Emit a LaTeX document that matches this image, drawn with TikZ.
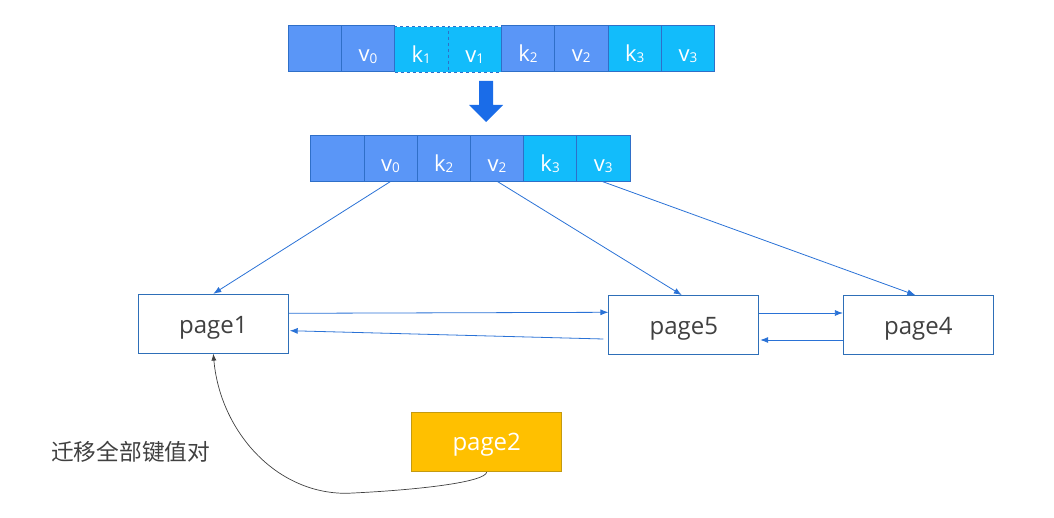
\documentclass[tikz,border=0pt]{standalone}
\usepackage{fontspec}
\setmainfont{Open Sans}
\newfontfamily\cjk{Noto Sans CJK SC}
\usetikzlibrary{arrows.meta,calc}
\definecolor{cellA}{HTML}{5A96F7}
\definecolor{cellB}{HTML}{12BCFB}
\definecolor{cellLine}{HTML}{2F6FC8}
\definecolor{linkBlue}{HTML}{2A72D6}
\definecolor{bigArrow}{HTML}{1A6CE8}
\definecolor{pageLine}{HTML}{2E6FB8}
\definecolor{gold}{HTML}{FFC000}
\definecolor{goldLine}{HTML}{C49A10}
\definecolor{txt}{HTML}{404040}
\newcommand{\sbs}[2]{#1\raisebox{-0.12ex}{\fontsize{13.5}{13.5}\selectfont #2}}
\tikzset{
  cellbox/.style={draw=cellLine, line width=0.7pt, minimum width=53.3pt, minimum height=45.5pt, inner sep=0pt, text=white, font=\fontsize{22}{22}\selectfont, text height=28pt, text depth=2pt},
  darkcell/.style={cellbox, fill=cellA},
  lightcell/.style={cellbox, fill=cellB},
  pagebox/.style={draw=pageLine, line width=0.8pt, fill=white, minimum width=150pt, minimum height=59pt, inner sep=0pt, text=txt, font=\fontsize{24}{24}\selectfont, text height=22pt, text depth=2.6pt},
  link/.style={draw=linkBlue, line width=0.8pt, -{Latex[length=8pt,width=6pt]}},
}
\begin{document}
\begin{tikzpicture}[x=1pt,y=-1pt]
\useasboundingbox (0,0) rectangle (1054,518);
% top array
\node[darkcell] (t0) at (314.7,48.6) {};
\node[darkcell] (t1) at (368.0,48.6) {\sbs{v}{0}};
\node[lightcell,dashed] (t2) at (421.3,49.5) {\sbs{k}{1}};
\node[lightcell,dashed] (t3) at (474.7,49.5) {\sbs{v}{1}};
\node[darkcell] (t4) at (528.0,48.4) {\sbs{k}{2}};
\node[darkcell] (t5) at (581.3,48.4) {\sbs{v}{2}};
\node[lightcell] (t6) at (634.7,48.4) {\sbs{k}{3}};
\node[lightcell] (t7) at (688.0,48.4) {\sbs{v}{3}};
% big down arrow
\fill[bigArrow] (479,81) -- (493,81) -- (493,105) -- (503,105) -- (486,122) -- (469,105) -- (479,105) -- cycle;
% bottom array
\node[darkcell] (b0) at (337.3,158.4) {};
\node[darkcell] (b1) at (390.5,158.4) {\sbs{v}{0}};
\node[darkcell] (b2) at (443.7,158.4) {\sbs{k}{2}};
\node[darkcell] (b3) at (496.9,158.4) {\sbs{v}{2}};
\node[lightcell] (b4) at (550.1,158.4) {\sbs{k}{3}};
\node[lightcell] (b5) at (603.3,158.4) {\sbs{v}{3}};
% pages
\node[pagebox] (p1) at (213.3,323.7) {page1};
\node[pagebox] (p5) at (683.8,325) {page5};
\node[pagebox] (p4) at (918.3,325) {page4};
\node[pagebox, fill=gold, draw=goldLine, text=white, text height=20pt, text depth=4pt] (p2) at (486.7,442.3) {page2};
\node[text=txt, font=\cjk\fontsize{22.7}{22.7}\selectfont, anchor=west, inner sep=0pt] (lbl) at (51,452) {迁移全部键值对};
% pointers
\draw[link] (b1.south) -- (p1.north);
\draw[link] ([xshift=0.5pt]b3.south) -- ([xshift=-2pt]p5.north);
\draw[link] ([xshift=-1pt]b5.south) -- ([xshift=-3pt]p4.north);
% sibling links
\draw[link] ([yshift=10.4pt]p1.east) -- ([yshift=12.7pt]p5.west);
\draw[link] ([xshift=-5pt,yshift=-14pt]p5.west) -- ([xshift=1pt,yshift=-7pt]p1.east);
\draw[link] ([yshift=12pt]p5.east) -- ([yshift=12pt]p4.west);
\draw[link] ([yshift=-15pt]p4.west) -- ([xshift=1pt,yshift=-15pt]p5.east);
% migration curve
\coordinate (mid) at (347,493.3);
\draw[txt, line width=0.7pt, -{Latex[length=7pt,width=5pt]}] (p2.south) .. controls (485,482) and (420,490) .. (mid) .. controls (275,494) and (220,430) .. (p1.south);
\end{tikzpicture}
\end{document}
